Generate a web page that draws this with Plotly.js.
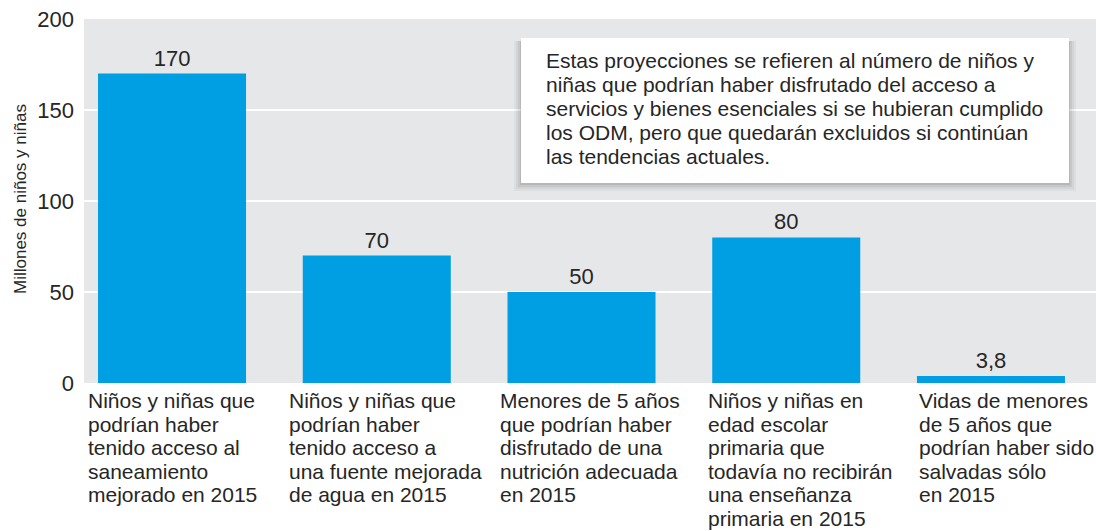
<!DOCTYPE html>
<html>
<head>
<meta charset="utf-8">
<script src="https://cdn.plot.ly/plotly-3.0.1.min.js"></script>
<style>html,body{margin:0;padding:0;background:#fff;}#chart{width:1096px;height:531px;}</style>
</head>
<body>
<div id="chart"></div>
<script>
const categories = [
  "Niños y niñas que\npodrían haber\ntenido acceso al\nsaneamiento\nmejorado en 2015",
  "Niños y niñas que\npodrían haber\ntenido acceso a\nuna fuente mejorada\nde agua en 2015",
  "Menores de 5 años\nque podrían haber\ndisfrutado de una\nnutrición adecuada\nen 2015",
  "Niños y niñas en\nedad escolar\nprimaria que\ntodavía no recibirán\nuna enseñanza\nprimaria en 2015",
  "Vidas de menores\nde 5 años que\npodrían haber sido\nsalvadas sólo\nen 2015"
];
const values = [170, 70, 50, 80, 3.8];
const yTickVals = [0, 50, 100, 150, 200];
const yTitle = "Millones de niños y niñas";
const noteLines = [
  "Estas proyecciones se refieren al número de niños y",
  "niñas que podrían haber disfrutado del acceso a",
  "servicios y bienes esenciales si se hubieran cumplido",
  "los ODM, pero que quedarán excluidos si continúan",
  "las tendencias actuales."
];

// layout geometry (pixels)
const W = 1096, H = 531;
const mL = 84, mR = 0, mT = 19, mB = 148;
const plotW = W - mL - mR, plotH = H - mT - mB;
const xp = px => (px - mL) / plotW;
const yp = py => (H - mB - py) / plotH;

const FONT = "Liberation Sans, Arial, sans-serif";
const TXT = "#262626";
const BLUE = "#009fe3";

const xIdx = categories.map((_, i) => i);

const annotations = [];
// category labels, line by line
const labelShift = [-86, -90, -84, -80, -74];
categories.forEach((lab, i) => {
  lab.split("\n").forEach((line, j) => {
    annotations.push({
      xref: "x", yref: "paper", x: i, y: 0,
      xanchor: "left", yanchor: "top", align: "left",
      xshift: labelShift[i], yshift: -4 - j * 23.5,
      text: line, showarrow: false,
      font: {family: FONT, size: 21, color: TXT}
    });
  });
});
// y axis title
annotations.push({
  xref: "paper", yref: "paper", x: xp(20), y: yp(199),
  xanchor: "center", yanchor: "middle", textangle: -90,
  text: yTitle, showarrow: false,
  font: {family: FONT, size: 17, color: TXT}
});
// note text lines
noteLines.forEach((line, j) => {
  annotations.push({
    xref: "paper", yref: "paper", x: xp(544), y: yp(60 + j * 24),
    xanchor: "left", yanchor: "middle", align: "left",
    text: line, showarrow: false,
    font: {family: FONT, size: 21, color: TXT}
  });
});

// note box with soft shadow
const shapes = [];
[[8, 0.035], [6, 0.045], [4, 0.06], [2, 0.08]].forEach(([d, a]) => {
  shapes.push({
    type: "rect", xref: "paper", yref: "paper", layer: "above",
    x0: xp(521 - d + 1), x1: xp(1069 + d - 1), y0: yp(183 + d), y1: yp(38 + 3),
    line: {width: 0}, fillcolor: `rgba(0,0,0,${a})`
  });
});
shapes.push({
  type: "rect", xref: "paper", yref: "paper", layer: "above",
  x0: xp(521), x1: xp(1069), y0: yp(183), y1: yp(38),
  line: {width: 0}, fillcolor: "#ffffff"
});

const trace = {
  type: "bar", x: xIdx, y: values,
  marker: {color: BLUE, line: {width: 0}},
  width: 0.723,
  texttemplate: "%{y}", textposition: "outside",
  textfont: {family: FONT, size: 22, color: TXT},
  cliponaxis: false, hoverinfo: "skip"
};

const layout = {
  width: W, height: H,
  margin: {l: mL, r: mR, t: mT, b: mB, pad: 0},
  paper_bgcolor: "#ffffff", plot_bgcolor: "#e6e7e9",
  separators: ",.",
  showlegend: false,
  xaxis: {
    range: [-0.43, 4.513], showticklabels: false, showgrid: false,
    zeroline: false, ticks: "", showline: false, fixedrange: true
  },
  yaxis: {
    range: [0, 200], tickvals: yTickVals, ticktext: yTickVals.map(String),
    showgrid: true, gridcolor: "#ffffff", gridwidth: 2,
    zeroline: false, showline: false, ticks: "", ticklabelstandoff: 9,
    tickfont: {family: FONT, size: 22, color: TXT}, fixedrange: true
  },
  annotations: annotations,
  shapes: shapes
};

Plotly.newPlot("chart", [trace], layout, {displayModeBar: false, staticPlot: true});
</script>
</body>
</html>
